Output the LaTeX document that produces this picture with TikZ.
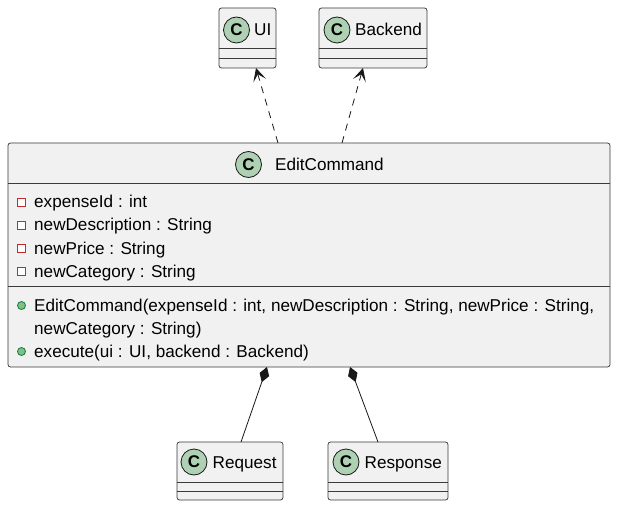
\documentclass[tikz,border=0pt]{standalone}
\usepackage{fontspec}
\setmainfont{Liberation Sans}
\usetikzlibrary{arrows.meta}
\definecolor{boxfill}{HTML}{F1F1F1}
\definecolor{boxline}{HTML}{181818}
\definecolor{circfill}{HTML}{ADD1B2}
\definecolor{privred}{HTML}{C82930}
\definecolor{pubfill}{HTML}{84BE84}
\definecolor{publine}{HTML}{038048}
\begin{document}
\begin{tikzpicture}[x=1bp,y=-1bp,
  classbox/.style={draw=boxline!85,fill=boxfill,line width=0.75bp,rounded corners=2.5bp},
  sep/.style={draw=boxline!85,line width=0.75bp},
  cicon/.style={circle,draw=boxline,fill=circfill,line width=0.8bp,minimum size=26bp,inner sep=0pt,font=\fontsize{17}{17}\selectfont\bfseries},
  txt/.style={anchor=base west,inner sep=0pt,font=\fontsize{17.2}{19}\selectfont},
  priv/.style={draw=privred,fill=white,line width=1.4bp,minimum size=8bp,inner sep=0pt},
  pub/.style={circle,draw=publine,fill=pubfill,line width=0.8bp,minimum size=8bp,inner sep=0pt},
  dep/.style={draw=boxline,line width=0.8bp,dash pattern=on 7bp off 6bp,-{Stealth[length=13bp,width=13bp,inset=6.5bp]}},
  comp/.style={draw=boxline,line width=0.8bp,{Diamond[length=16bp,width=10bp,fill=boxline]}-}
]
\useasboundingbox (0,0) rectangle (617,508);
\fill[white] (0,0) rectangle (617,508);

% UI
\draw[classbox] (219,8) rectangle (276,68);
\draw[sep] (219,48) -- (276,48);
\draw[sep] (219,58) -- (276,58);
\node[cicon] (uic) at (236.5,30) {C};
\node[txt] (uit) at (254,36) {UI};
\coordinate (uib) at (256,68);

% Backend
\draw[classbox] (319,8) rectangle (427,68);
\draw[sep] (319,48) -- (427,48);
\draw[sep] (319,58) -- (427,58);
\node[cicon] (bec) at (337,30) {C};
\node[txt] (bet) at (355,36) {Backend};
\coordinate (beb) at (363,68);

% EditCommand
\draw[classbox] (8,143) rectangle (610,367);
\draw[sep] (8,183) -- (610,183);
\draw[sep] (8,286) -- (610,286);
\node[cicon] (ecc) at (248.5,164.5) {C};
\node[txt] (ect) at (275,171) {EditCommand};
\coordinate (ect1) at (278,143);
\coordinate (ect2) at (342,143);
\coordinate (ecb1) at (267,367);
\coordinate (ecb2) at (350,367);

\node[priv] (a1) at (21.5,202.5) {};
\node[txt] (t1) at (34,208) {expenseId : int};
\node[priv] (a2) at (21.5,225.5) {};
\node[txt] (t2) at (34,231) {newDescription : String};
\node[priv] (a3) at (21.5,248.5) {};
\node[txt] (t3) at (34,254) {newPrice : String};
\node[priv] (a4) at (21.5,271.5) {};
\node[txt] (t4) at (34,277) {newCategory : String};

\node[pub] (m1) at (21.5,305.5) {};
\node[txt] (u1) at (34,311) {EditCommand(expenseId : int, newDescription : String, newPrice : String,};
\node[txt] (u2) at (34,334) {newCategory : String)};
\node[pub] (m2) at (21.5,351.5) {};
\node[txt] (u3) at (34,357) {execute(ui : UI, backend : Backend)};

% Request
\draw[classbox] (177,442) rectangle (283,500);
\draw[sep] (177,482) -- (283,482);
\draw[sep] (177,491) -- (283,491);
\node[cicon] (rqc) at (194,462) {C};
\node[txt] (rqt) at (212.5,468) {Request};
\coordinate (rqtop) at (241,442);

% Response
\draw[classbox] (328,442) rectangle (448,500);
\draw[sep] (328,482) -- (448,482);
\draw[sep] (328,491) -- (448,491);
\node[cicon] (rsc) at (346,462) {C};
\node[txt] (rst) at (364.5,468) {Response};
\coordinate (rstop) at (378,442);

% connectors
\draw[dep] (ect1) -- (uib);
\draw[dep] (ect2) -- (beb);
\draw[comp] (ecb1) -- (rqtop);
\draw[comp] (ecb2) -- (rstop);
\end{tikzpicture}
\end{document}
